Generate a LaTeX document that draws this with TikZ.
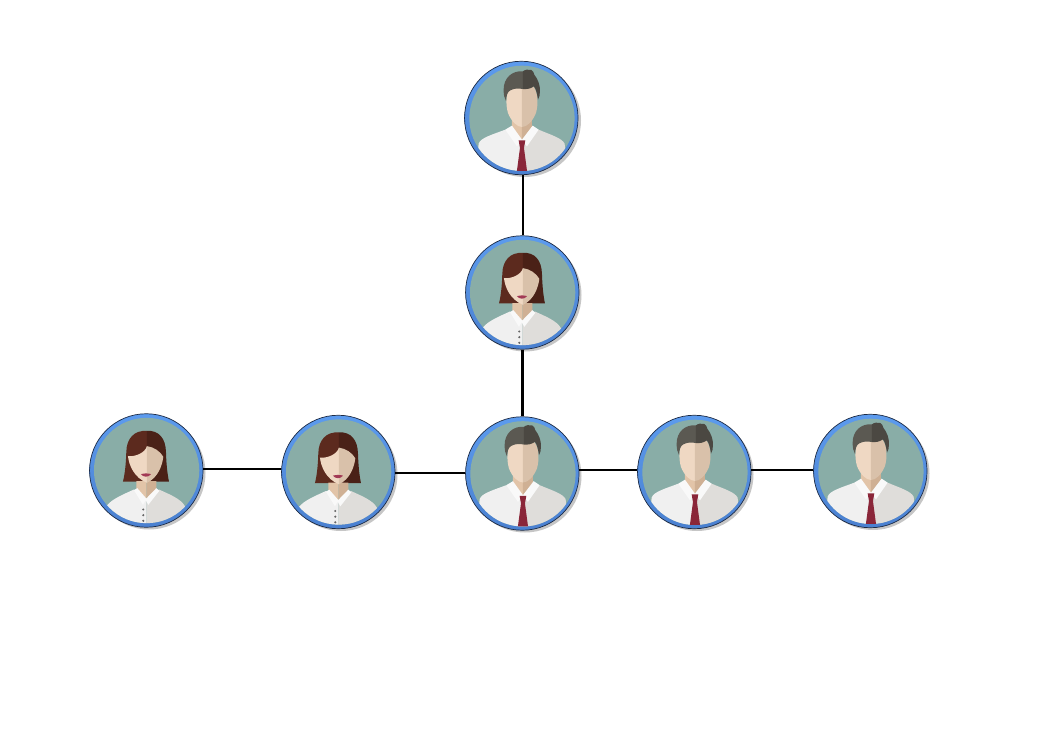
\documentclass[tikz,border=0pt]{standalone}
\definecolor{teal1}{HTML}{89ADA7}
\definecolor{ringT}{HTML}{5C9BEE}
\definecolor{ringB}{HTML}{4A80D0}
\definecolor{edge}{HTML}{1C2A44}
\definecolor{shade}{HTML}{C6C6C6}
\definecolor{hairL}{HTML}{5B5952}
\definecolor{hairR}{HTML}{4B4842}
\definecolor{wHairL}{HTML}{5C2A1E}
\definecolor{wHairR}{HTML}{4A2117}
\definecolor{faceL}{HTML}{EFD8C3}
\definecolor{faceR}{HTML}{D9C1AA}
\definecolor{neckL}{HTML}{E2C4A8}
\definecolor{neckR}{HTML}{CFB094}
\definecolor{shirtL}{HTML}{F0F0F0}
\definecolor{shirtR}{HTML}{DFDDDA}
\definecolor{collar}{HTML}{F9F9F9}
\definecolor{tie}{HTML}{8A2639}
\definecolor{lips}{HTML}{A23A55}
\tikzset{
  person/.style={circle,draw=edge,line width=.7pt,top color=ringT,bottom color=ringB,minimum size=113.5pt,inner sep=0pt},
  link/.style={draw=black,line width=2.8pt},
  portrait/.style={x=.3333pt,y=-.3333pt},
  backshade/.style={fill=shade}
}
\newcommand{\manart}{%
  \fill[teal1] (200,206) circle [radius=158];
  \clip (200,206) circle [radius=158];
  % shirt
  \fill[shirtL] (200,400) -- (60,400) -- (70,282) .. controls (75,265) and (110,255) .. (150,240) -- (200,270) -- cycle;
  \fill[shirtR] (200,400) -- (340,400) -- (328,282) .. controls (320,265) and (285,255) .. (250,240) -- (200,270) -- cycle;
  % neck
  \fill[neckL] (170,195) -- (170,240) -- (200,272) -- (200,195) -- cycle;
  \fill[neckR] (230,195) -- (230,240) -- (200,272) -- (200,195) -- cycle;
  % collar
  \fill[collar] (150,240) -- (170,228) -- (200,270) -- (232,228) -- (250,240) -- (215,290) -- (200,272) -- (185,290) -- cycle;
  % tie
  \fill[tie] (190,272) -- (210,272) -- (206,295) -- (216,370) -- (184,370) -- (194,295) -- cycle;
  % face
  \fill[faceL] (200,100) -- (165,112) .. controls (151,130) and (151,165) .. (158,190) .. controls (168,215) and (185,232) .. (200,232) -- cycle;
  \fill[faceR] (200,100) -- (235,112) .. controls (249,130) and (249,165) .. (242,190) .. controls (232,215) and (215,232) .. (200,232) -- cycle;
  % hair
  \fill[hairL] (203,65) .. controls (170,62) and (145,85) .. (145,120) .. controls (145,135) and (147,145) .. (152,154) .. controls (153,138) and (156,127) .. (165,122) .. controls (178,115) and (190,116) .. (203,118) -- cycle;
  \fill[hairR] (203,65) .. controls (208,60) and (220,58) .. (228,61) .. controls (234,64) and (236,70) .. (237,75) .. controls (247,88) and (255,105) .. (254,125) .. controls (254,135) and (252,145) .. (248,150) .. controls (246,135) and (243,120) .. (236,110) .. controls (225,118) and (213,119) .. (203,118) -- cycle;
}
\newcommand{\womanart}{%
  \fill[teal1] (203,201) circle [radius=158];
  \clip (203,201) circle [radius=158];
  % hair back
  \fill[wHairL] (204,82) .. controls (165,80) and (143,105) .. (142,145) .. controls (141,180) and (138,210) .. (132,234) -- (204,234) -- cycle;
  \fill[wHairR] (204,82) .. controls (240,80) and (260,105) .. (261,145) .. controls (262,180) and (265,210) .. (270,234) -- (204,234) -- cycle;
  % shirt
  \fill[shirtL] (203,400) -- (70,400) -- (82,308) .. controls (100,285) and (135,272) .. (165,258) -- (203,285) -- cycle;
  \fill[shirtR] (203,400) -- (335,400) -- (318,308) .. controls (305,285) and (270,272) .. (240,258) -- (203,285) -- cycle;
  % neck
  \fill[neckL] (172,233) -- (172,258) -- (203,287) -- (203,233) -- cycle;
  \fill[neckR] (232,233) -- (232,258) -- (203,287) -- (203,233) -- cycle;
  % collar
  \fill[collar] (165,260) -- (175,254) -- (202,285) -- (232,254) -- (241,262) -- (208,304) -- (200,290) -- (192,304) -- cycle;
  % buttons
  \foreach \v in {318,335,352} \fill[black!60] (193,\v) circle [radius=3.5];
  % face
  \fill[faceL] (204,128) .. controls (198,148) and (170,160) .. (147,158) .. controls (150,185) and (165,222) .. (204,238) -- cycle;
  \fill[faceR] (204,128) .. controls (225,130) and (245,145) .. (253,160) .. controls (250,185) and (238,222) .. (204,238) -- cycle;
  % lips
  \fill[lips] (186,212) .. controls (195,209) and (208,209) .. (216,212) .. controls (210,222) and (192,222) .. (186,212) -- cycle;
}
\begin{document}
\begin{tikzpicture}[x=1pt,y=-1pt]
\useasboundingbox (0,0) rectangle (1041,735);
\fill[white] (0,0) rectangle (1041,735);
\fill[backshade] (524.5,120.5) circle [radius=56.5];
\fill[backshade] (525,295) circle [radius=56.5];
\fill[backshade] (149,473) circle [radius=56.5];
\fill[backshade] (341,474.5) circle [radius=56.5];
\fill[backshade] (525,476) circle [radius=56.5];
\fill[backshade] (697,474.5) circle [radius=56.5];
\fill[backshade] (873,473.5) circle [radius=56.5];
\node[person] (top) at (521.3,118) {};
\node[person] (mid) at (522.3,292.5) {};
\node[person] (far left) at (146.3,470.5) {};
\node[person] (left) at (338.3,472) {};
\node[person] (centre) at (522.3,473.5) {};
\node[person] (right) at (694.3,472) {};
\node[person] (far right) at (870.3,471) {};
\begin{scope}[shift={(top.center)},portrait,shift={(-198,-205)}]\manart\end{scope}
\begin{scope}[shift={(mid.center)},portrait,shift={(-202,-201)}]\womanart\end{scope}
\begin{scope}[shift={(far left.center)},portrait,shift={(-202,-201)}]\womanart\end{scope}
\begin{scope}[shift={(left.center)},portrait,shift={(-202,-201)}]\womanart\end{scope}
\begin{scope}[shift={(centre.center)},portrait,shift={(-198,-205)}]\manart\end{scope}
\begin{scope}[shift={(right.center)},portrait,shift={(-198,-205)}]\manart\end{scope}
\begin{scope}[shift={(far right.center)},portrait,shift={(-198,-205)}]\manart\end{scope}
\draw[link] ([xshift=1.7pt]top.south) -- ([xshift=.7pt]mid.north);
\draw[link] (mid.south) -- (centre.north);
\draw[link] ([yshift=1.5pt]far left.east) -- ([yshift=3pt]left.west);
\draw[link] ([yshift=-1pt]left.east) -- ([yshift=.5pt]centre.west);
\draw[link] ([yshift=3.5pt]centre.east) -- ([yshift=2pt]right.west);
\draw[link] ([yshift=2pt]right.east) -- ([yshift=1pt]far right.west);
\end{tikzpicture}
\end{document}
